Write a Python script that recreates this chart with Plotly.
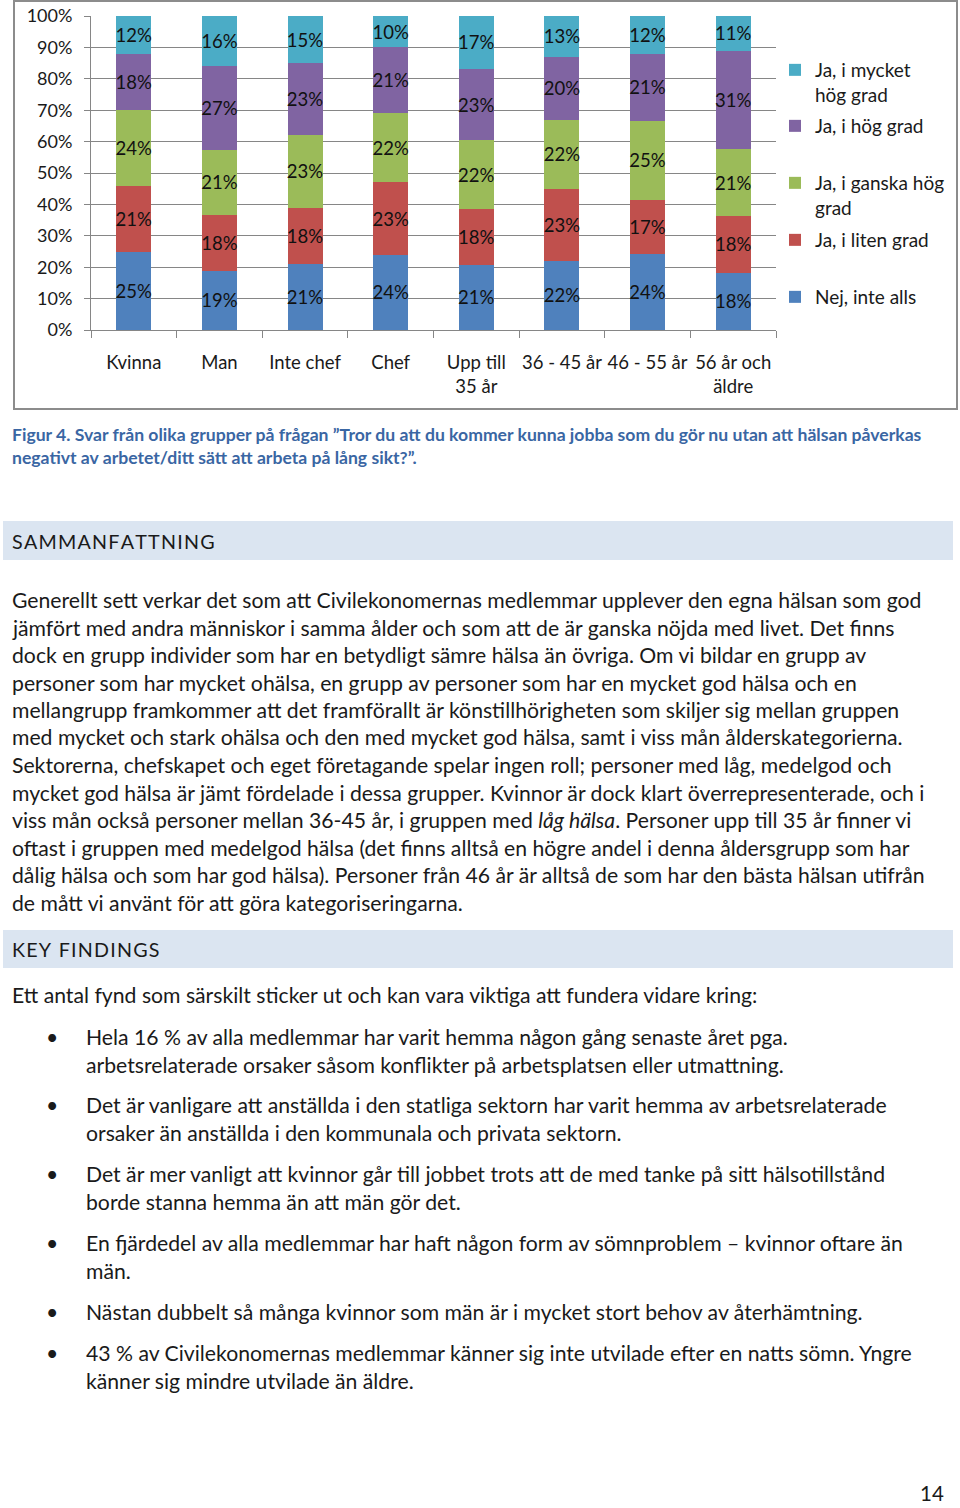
import plotly.graph_objects as go

# ---------------- data ----------------
categories = ["Kvinna", "Man", "Inte chef", "Chef", "Upp till<br>35 år",
              "36 - 45 år", "46 - 55 år", "56 år och<br>äldre"]
nej_inte_alls = [25, 19, 21, 24, 21, 22, 24, 18]
ja_liten_grad = [21, 18, 18, 23, 18, 23, 17, 18]
ja_ganska_hog = [24, 21, 23, 22, 22, 22, 25, 21]
ja_hog_grad = [18, 27, 23, 21, 23, 20, 21, 31]
ja_mycket_hog = [12, 16, 15, 10, 17, 13, 12, 11]

series_names = ["Nej, inte alls", "Ja, i liten grad", "Ja, i ganska hög<br>grad",
                "Ja, i hög grad", "Ja, i mycket<br>hög grad"]
series_values = [nej_inte_alls, ja_liten_grad, ja_ganska_hog, ja_hog_grad, ja_mycket_hog]
series_colors = ["#4F81BD", "#C0504D", "#9BBB59", "#8064A2", "#4BACC6"]

caption_lines = [
    "Figur 4. Svar från olika grupper på frågan ”Tror du att du kommer kunna jobba som du gör nu utan att hälsan påverkas",
    "negativt av arbetet/ditt sätt att arbeta på lång sikt?”.",
]
summary_lines = [
    "Generellt sett verkar det som att Civilekonomernas medlemmar upplever den egna hälsan som god",
    "jämfört med andra människor i samma ålder och som att de är ganska nöjda med livet. Det finns",
    "dock en grupp individer som har en betydligt sämre hälsa än övriga. Om vi bildar en grupp av",
    "personer som har mycket ohälsa, en grupp av personer som har en mycket god hälsa och en",
    "mellangrupp framkommer att det framförallt är könstillhörigheten som skiljer sig mellan gruppen",
    "med mycket och stark ohälsa och den med mycket god hälsa, samt i viss mån ålderskategorierna.",
    "Sektorerna, chefskapet och eget företagande spelar ingen roll; personer med låg, medelgod och",
    "mycket god hälsa är jämt fördelade i dessa grupper. Kvinnor är dock klart överrepresenterade, och i",
    "viss mån också personer mellan 36-45 år, i gruppen med <i>låg hälsa</i>. Personer upp till 35 år finner vi",
    "oftast i gruppen med medelgod hälsa (det finns alltså en högre andel i denna åldersgrupp som har",
    "dålig hälsa och som har god hälsa). Personer från 46 år är alltså de som har den bästa hälsan utifrån",
    "de mått vi använt för att göra kategoriseringarna.",
]
intro_line = "Ett antal fynd som särskilt sticker ut och kan vara viktiga att fundera vidare kring:"
bullets = [
    ["Hela 16 % av alla medlemmar har varit hemma någon gång senaste året pga.",
     "arbetsrelaterade orsaker såsom konflikter på arbetsplatsen eller utmattning."],
    ["Det är vanligare att anställda i den statliga sektorn har varit hemma av arbetsrelaterade",
     "orsaker än anställda i den kommunala och privata sektorn."],
    ["Det är mer vanligt att kvinnor går till jobbet trots att de med tanke på sitt hälsotillstånd",
     "borde stanna hemma än att män gör det."],
    ["En fjärdedel av alla medlemmar har haft någon form av sömnproblem – kvinnor oftare än",
     "män."],
    ["Nästan dubbelt så många kvinnor som män är i mycket stort behov av återhämtning."],
    ["43 % av Civilekonomernas medlemmar känner sig inte utvilade efter en natts sömn. Yngre",
     "känner sig mindre utvilade än äldre."],
]

# ---------------- layout helpers ----------------
W, H = 960, 1508
FONT = "Lato, Carlito, 'Open Sans', sans-serif"
TXT = "#1a1a1a"


def px(x):
    return x / W


def py(y):
    return 1 - y / H


fig = go.Figure()

legend_tops = [300, 243, 186, 129, 73]
for i, (name, vals, col) in enumerate(zip(series_names, series_values, series_colors)):
    lg = "legend" if i == 0 else f"legend{i + 1}"
    fig.add_trace(go.Bar(
        x=categories, y=vals, name=name, marker=dict(color=col, line=dict(width=0)),
        text=[f"{v}%" for v in vals], textposition="inside", insidetextanchor="middle",
        textangle=0, constraintext="none",
        textfont=dict(family=FONT, size=18.5, color="#111111"),
        legend=lg, hoverinfo="skip",
    ))

layout_legends = {}
for i, top in enumerate(legend_tops):
    key = "legend" if i == 0 else f"legend{i + 1}"
    layout_legends[key] = dict(
        x=px(775), xanchor="left", y=py(top - 22), yanchor="top",
        font=dict(family=FONT, size=19, color=TXT), bgcolor="rgba(0,0,0,0)",
        borderwidth=0, itemwidth=30, valign="top", itemclick=False,
    )

fig.update_layout(
    width=W, height=H, margin=dict(l=0, r=0, t=0, b=0, pad=0, autoexpand=False),
    paper_bgcolor="white", plot_bgcolor="white",
    barmode="stack", barnorm="percent", bargap=0.59,
    showlegend=True,
    uniformtext=dict(minsize=18.5, mode="show"),
    xaxis=dict(domain=[px(91), px(776)], type="category", tickangle=0, automargin=False,
               tickson="boundaries", ticks="outside", ticklen=7, tickcolor="#868686",
               showline=True, linecolor="#868686", linewidth=1, showgrid=False,
               tickfont=dict(family=FONT, size=18.5, color=TXT), ticklabelstandoff=16,
               fixedrange=True),
    yaxis=dict(domain=[py(330), py(16)], range=[0, 100], dtick=10, ticksuffix="%",
               automargin=False,
               ticks="outside", ticklen=6, tickcolor="#868686",
               showline=True, linecolor="#868686", linewidth=1,
               showgrid=True, gridcolor="#868686", gridwidth=1, zeroline=False,
               tickfont=dict(family=FONT, size=18, color=TXT), ticklabelstandoff=8,
               fixedrange=True),
    **layout_legends,
)

shapes = []
# chart frame
shapes.append(dict(type="rect", xref="paper", yref="paper", x0=px(14), x1=px(957),
                   y0=py(409), y1=py(1), line=dict(color="#8c8c8c", width=2)))
# heading bands
for (y0, y1) in [(521, 560), (930, 968)]:
    shapes.append(dict(type="rect", xref="paper", yref="paper", x0=px(3), x1=px(953),
                       y0=py(y1), y1=py(y0), fillcolor="#DBE5F1", line=dict(width=0),
                       layer="below"))
fig.update_layout(shapes=shapes)

ann = []


def add_text(x, y, text, size=21.2, color=TXT, anchor="left"):
    ann.append(dict(xref="paper", yref="paper", x=px(x), y=py(y), text=text,
                    showarrow=False, xanchor=anchor, yanchor="middle",
                    font=dict(family=FONT, size=size, color=color)))


# caption
for i, line in enumerate(caption_lines):
    add_text(10, 435 + i * 22.5, f"<b>{line}</b>", size=17.6, color="#3A66A3")

# headings (letter-spaced)
sp = "\u200a"
add_text(10, 541, sp.join("SAMMANFATTNING"), size=19.7)
add_text(10, 949, sp.join("KEY FINDINGS"), size=19.7)

# summary paragraph
for i, line in enumerate(summary_lines):
    add_text(10, 600 + i * 27.5, line)

add_text(10, 995, intro_line)

bullet_starts = [1037, 1105, 1174, 1243, 1312, 1353]
for start, lines in zip(bullet_starts, bullets):
    add_text(44, start, "•")
    for j, line in enumerate(lines):
        add_text(84, start + j * 27.5, line)

add_text(946, 1493, "14", size=20.5, anchor="right")

fig.update_layout(annotations=ann)

fig.write_html(
    "out.html",
    post_script="document.body.style.margin='0';document.body.style.overflow='hidden';",
)
